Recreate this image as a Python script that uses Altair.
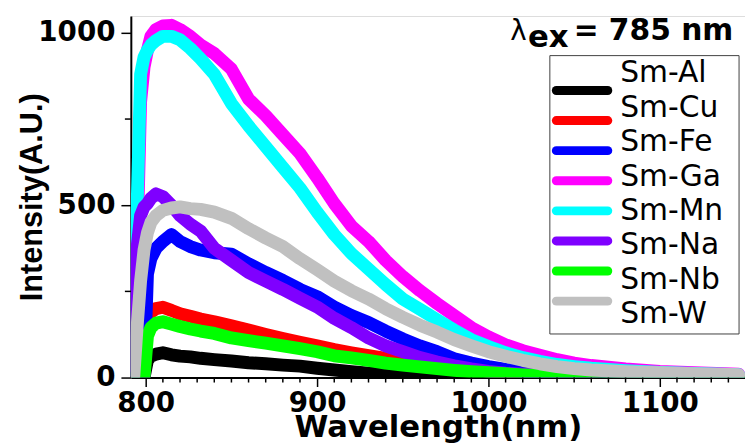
import altair as alt
import pandas as pd

# ---------------- data ----------------
wavelengths = [793, 795, 797, 799, 801, 803, 806, 810, 815, 820, 826, 832, 840, 850,
               860, 870, 880, 890, 900, 910, 920, 930, 940, 950, 960, 970, 980, 990,
               1000, 1010, 1020, 1030, 1040, 1050, 1060, 1080, 1100, 1120, 1146]

series_names = ["Sm-Al", "Sm-Cu", "Sm-Fe", "Sm-Ga", "Sm-Mn", "Sm-Na", "Sm-Nb", "Sm-W"]
series_colors = ["#000000", "#ff0000", "#0000ff", "#ff00ff", "#00ffff", "#7f00ff", "#00ff00", "#c0c0c0"]

sm_al = [0, 0, 0, 0, 50, 62, 68, 72, 66, 62, 60, 56, 52, 48, 43, 40, 36, 33, 27, 22,
         17, 13, 10, 7, 5, 3, 2, 1, 1, 0, 0, 0, 0, 0, 0, 0, 0, 0, 0]
sm_cu = [0, 0, 0, 0, 170, 190, 200, 204, 195, 185, 178, 170, 162, 150, 138, 125, 113,
         102, 92, 81, 72, 64, 56, 49, 42, 35, 29, 24, 19, 15, 12, 9, 7, 5, 4, 3, 2, 2, 1]
sm_fe = [0, 0, 0, 0, 300, 345, 375, 395, 415, 395, 380, 370, 362, 358, 330, 305, 282,
         256, 235, 205, 180, 160, 135, 112, 92, 75, 55, 42, 32, 24, 18, 13, 10, 8, 6, 4, 3, 2, 2]
sm_ga = [20, 400, 800, 900, 950, 990, 1010, 1020, 1022, 1010, 990, 965, 940, 895, 808,
         760, 705, 650, 580, 505, 440, 395, 340, 293, 252, 215, 180, 145, 118, 95, 78, 65,
         52, 42, 35, 25, 18, 14, 10]
sm_mn = [20, 500, 880, 930, 950, 965, 978, 990, 990, 980, 955, 925, 880, 795, 730, 670,
         610, 550, 480, 415, 360, 315, 270, 228, 198, 168, 138, 110, 90, 72, 58, 47, 38,
         32, 27, 20, 15, 12, 8]
sm_na = [10, 380, 470, 495, 505, 520, 533, 525, 500, 470, 445, 425, 375, 340, 305, 280,
         256, 230, 205, 172, 145, 115, 92, 75, 58, 45, 34, 25, 18, 13, 10, 8, 6, 5, 4, 3, 3, 2, 2]
sm_nb = [0, 0, 0, 0, 120, 145, 158, 162, 155, 148, 141, 135, 128, 115, 107, 100, 92, 84,
         75, 63, 57, 50, 42, 36, 31, 26, 21, 17, 14, 11, 8, 6, 4, 3, 2, 2, 1, 1, 1]
sm_w = [0, 150, 280, 370, 420, 450, 470, 485, 492, 495, 490, 488, 480, 462, 432, 405, 380,
        345, 313, 280, 252, 228, 200, 175, 152, 132, 110, 92, 75, 62, 50, 40, 32, 26, 22,
        17, 14, 11, 8]

series_values = [sm_al, sm_cu, sm_fe, sm_ga, sm_mn, sm_na, sm_nb, sm_w]

x_major = [800, 900, 1000, 1100]
x_minor = [v for v in range(810, 1141, 10) if v % 100 != 0]
y_major = [0, 500, 1000]
y_minor = [250, 750]
x_domain = [791.3, 1149.7]
y_domain = [0, 1049]

annot_parts = ["\u03bb", "ex", "= 785 nm"]

# ---------------- build tables ----------------
rows = []
for name, vals in zip(series_names, series_values):
    for w, v in zip(wavelengths, vals):
        rows.append({"Wavelength": w, "Intensity": v, "Sample": name})
df = pd.DataFrame(rows)
leg_df = pd.DataFrame({"Sample": series_names})

W, H = 620, 365

xscale = alt.Scale(domain=x_domain, nice=False, zero=False)
yscale = alt.Scale(domain=y_domain, nice=False)
cscale = alt.Scale(domain=series_names, range=series_colors)

lines = alt.Chart(df).mark_line(
    strokeWidth=13, strokeCap="round", strokeJoin="round", clip=True
).encode(
    x=alt.X("Wavelength:Q", scale=xscale,
            axis=alt.Axis(values=x_major, title="Wavelength(nm)", format="d",
                          titleFont="DejaVu Sans", titleFontSize=31, titleFontWeight="bold",
                          titleColor="black", titleY=59, titleBaseline="alphabetic",
                          labelFont="DejaVu Sans", labelFontSize=28, labelFontWeight="bold",
                          labelColor="black", labelPadding=3, labelFlush=False,
                          tickSize=9, tickWidth=1.5, tickColor="black",
                          domainColor="black", domainWidth=2, grid=False)),
    y=alt.Y("Intensity:Q", scale=yscale,
            axis=alt.Axis(values=y_major, title="Intensity(A.U.)", format="d",
                          titleFont="Liberation Sans", titleFontSize=31, titleFontWeight="bold",
                          titleColor="black", titleX=-90, titleY=182.5, titleAngle=270,
                          titleBaseline="alphabetic", titleAlign="center",
                          labelFont="DejaVu Sans", labelFontSize=28, labelFontWeight="bold",
                          labelColor="black", labelPadding=6, labelFlush=False,
                          tickSize=10, tickWidth=1.5, tickColor="black",
                          domainColor="black", domainWidth=2, grid=False)),
    color=alt.Color("Sample:N", scale=cscale, legend=None),
)

xminor = alt.Chart(pd.DataFrame({"v": x_minor})).mark_rule(
    color="black", strokeWidth=1.5
).encode(x=alt.X("v:Q", scale=xscale), y=alt.value(H), y2=alt.value(H + 5))

yminor = alt.Chart(pd.DataFrame({"v": y_minor})).mark_rule(
    color="black", strokeWidth=1.5
).encode(y=alt.Y("v:Q", scale=yscale, axis=None), x=alt.value(0), x2=alt.value(-6))

# ---- legend (drawn as marks) ----
leg_y = alt.Y("Sample:N", scale=alt.Scale(domain=series_names, range=[60, 303], padding=0),
              axis=None)

leg_box = alt.Chart(pd.DataFrame({"b": [0]})).mark_rect(
    fill="white", stroke="#404040", strokeWidth=1
).encode(x=alt.value(423), x2=alt.value(614), y=alt.value(40), y2=alt.value(321))

leg_sym = alt.Chart(leg_df).mark_rule(strokeWidth=9, strokeCap="round").encode(
    x=alt.value(429.5), x2=alt.value(481.5), y=leg_y,
    color=alt.Color("Sample:N", scale=cscale, legend=None),
)

leg_txt = alt.Chart(leg_df).mark_text(
    font="DejaVu Sans", fontSize=30, align="left", baseline="middle", color="black", dy=-2
).encode(x=alt.value(494), y=leg_y, text="Sample:N")

# ---- excitation annotation ----
lam = alt.Chart(pd.DataFrame({"t": [annot_parts[0]]})).mark_text(
    font="DejaVu Sans", fontSize=28, align="left", baseline="alphabetic", color="black"
).encode(x=alt.value(383), y=alt.value(24), text="t:N")

ex = alt.Chart(pd.DataFrame({"t": [annot_parts[1]]})).mark_text(
    font="DejaVu Sans", fontSize=31, fontWeight="bold", align="left",
    baseline="alphabetic", color="black"
).encode(x=alt.value(401), y=alt.value(31), text="t:N")

nm = alt.Chart(pd.DataFrame({"t": [annot_parts[2]]})).mark_text(
    font="DejaVu Sans", fontSize=30, fontWeight="bold", align="left",
    baseline="alphabetic", color="black"
).encode(x=alt.value(447), y=alt.value(24), text="t:N")

chart = alt.layer(lines, xminor, yminor, leg_box, leg_sym, leg_txt, lam, ex, nm).resolve_scale(
    y="independent"
).properties(
    width=W, height=H,
    padding={"left": 124, "top": 6, "right": 0, "bottom": 66},
    autosize=alt.AutoSizeParams(type="none"),
).configure_view(
    stroke="black", strokeWidth=1.5
).configure(background="white")

chart.save("out.html", embed_options={"renderer": "svg", "actions": False})
